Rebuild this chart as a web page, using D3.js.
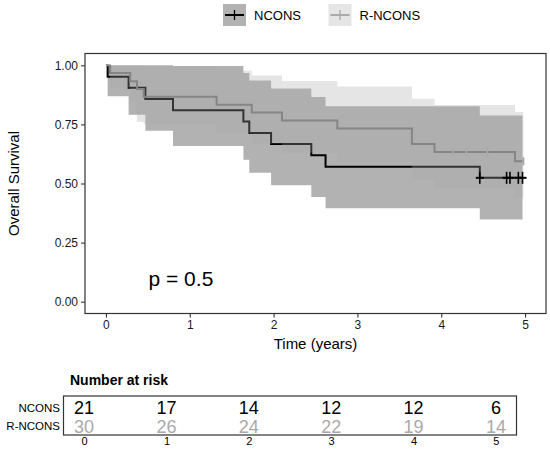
<!DOCTYPE html>
<html><head><meta charset="utf-8">
<script src="https://cdn.jsdelivr.net/npm/d3@7"></script>
<style>
html,body{margin:0;padding:0;background:#fff;}
svg{display:block;font-family:"Liberation Sans",Arial,sans-serif;}
</style></head>
<body>
<svg id="chart" width="550" height="453"></svg>
<script>
// ---- data ----
const groups = ["NCONS", "R-NCONS"];
const groupColors = ["#000000", "#a9a9a9"];
const bandColors = ["#000000", "#a9a9a9"];

const ncTime  = [0, 0.02, 0.27, 0.47, 0.80, 1.64, 1.71, 1.97, 2.45, 2.62, 4.46, 4.97];
const ncSurv  = [1, 0.952, 0.905, 0.857, 0.810, 0.762, 0.714, 0.667, 0.619, 0.571, 0.524, 0.524];
const ncUpper = [1, 1, 1, 1, 0.997, 0.967, 0.936, 0.902, 0.866, 0.827, 0.788, 0.788];
const ncLower = [1, 0.869, 0.791, 0.723, 0.659, 0.600, 0.545, 0.493, 0.443, 0.395, 0.348, 0.348];
const ncCensorTime = [4.46, 4.78, 4.82, 4.92, 4.97];
const ncCensorSurv = [0.524, 0.524, 0.524, 0.524, 0.524];

const rnTime  = [0, 0.05, 0.29, 0.37, 0.45, 1.32, 1.74, 2.10, 2.76, 3.65, 3.92, 4.88, 4.98];
const rnSurv  = [1, 0.967, 0.933, 0.900, 0.867, 0.833, 0.800, 0.767, 0.733, 0.667, 0.633, 0.594, 0.594];
const rnUpper = [1, 1, 1, 1, 0.997, 0.977, 0.957, 0.934, 0.910, 0.859, 0.832, 0.802, 0.802];
const rnLower = [1, 0.905, 0.848, 0.760, 0.753, 0.710, 0.669, 0.630, 0.591, 0.518, 0.482, 0.440, 0.440];
const rnCensorTime = [4.14, 4.30, 4.55, 4.98];
const rnCensorSurv = [0.633, 0.633, 0.633, 0.594];

const xTicks = [0, 1, 2, 3, 4, 5];
const yTicks = [0, 0.25, 0.5, 0.75, 1.0];
const yTickLabels = ["0.00", "0.25", "0.50", "0.75", "1.00"];
const riskTimes = [0, 1, 2, 3, 4, 5];
const riskNcons = [21, 17, 14, 12, 12, 6];
const riskRncons = [30, 26, 24, 22, 19, 14];
const pLabel = "p = 0.5";

// ---- build ----
const series = [
  {name: groups[0], color: groupColors[0], band: bandColors[0],
   pts: ncTime.map((t,i)=>({t, s: ncSurv[i], up: ncUpper[i], lo: ncLower[i]})),
   cens: ncCensorTime.map((t,i)=>({t, s: ncCensorSurv[i]}))},
  {name: groups[1], color: groupColors[1], band: bandColors[1],
   pts: rnTime.map((t,i)=>({t, s: rnSurv[i], up: rnUpper[i], lo: rnLower[i]})),
   cens: rnCensorTime.map((t,i)=>({t, s: rnCensorSurv[i]}))}
];

const svg = d3.select("#chart");
const P = {left: 85, right: 546, top: 53.5, bottom: 313.5};
const x = d3.scaleLinear().domain([-0.25, 5.25]).range([P.left, P.right]);
const y = d3.scaleLinear().domain([-0.05, 1.05]).range([P.bottom, P.top]);

const g = svg.append("g");

// lines first
const line = d3.line().x(d=>x(d.t)).y(d=>y(d.s)).curve(d3.curveStepAfter);
series.forEach(s=>{
  g.append("path").attr("d", line(s.pts)).attr("fill","none")
   .attr("stroke", s.color).attr("stroke-width", 2);
});
// confidence bands over lines
const area = d3.area().x(d=>x(d.t)).y0(d=>y(d.lo)).y1(d=>y(d.up)).curve(d3.curveStepAfter);
series.forEach(s=>{
  g.append("path").attr("d", area(s.pts)).attr("fill", s.band).attr("fill-opacity", 0.3).attr("stroke","none");
});
// censor marks
series.forEach((s,k)=>{
  s.cens.forEach(c=>{
    const cx = x(c.t), cy = y(c.s);
    if (k === 0) {
      g.append("line").attr("x1",cx).attr("x2",cx).attr("y1",cy-6).attr("y2",cy+6)
        .attr("stroke", s.color).attr("stroke-width",1.6);
      g.append("line").attr("x1",cx-4).attr("x2",cx+4).attr("y1",cy).attr("y2",cy)
        .attr("stroke", s.color).attr("stroke-width",2);
    } else {
      g.append("line").attr("x1",cx).attr("x2",cx).attr("y1",cy-4).attr("y2",cy+4)
        .attr("stroke", s.color).attr("stroke-width",2);
    }
  });
});

// panel border
svg.append("rect").attr("x",P.left).attr("y",P.top).attr("width",P.right-P.left).attr("height",P.bottom-P.top)
  .attr("fill","none").attr("stroke","#333").attr("stroke-width",1.2);

// axes
const yAxis = d3.axisLeft(y).tickValues(yTicks).tickFormat((d,i)=>yTickLabels[i]).tickSize(4).tickPadding(3);
const ya = svg.append("g").attr("transform",`translate(${P.left},0)`).call(yAxis);
const xAxis = d3.axisBottom(x).tickValues(xTicks).tickFormat(d3.format("d")).tickSize(4).tickPadding(3);
const xa = svg.append("g").attr("transform",`translate(0,${P.bottom})`).call(xAxis);
[ya, xa].forEach(a=>{
  a.select(".domain").remove();
  a.selectAll(".tick line").attr("stroke","#333").attr("stroke-width",1.1);
  a.selectAll(".tick text").attr("fill","#1a1a1a").style("font-size","12px")
   .style("font-family",'"Liberation Sans",Arial,sans-serif');
});

svg.append("text").attr("x",(P.left+P.right)/2).attr("y",348.5).attr("text-anchor","middle")
  .style("font-size","15px").attr("fill","#000").text("Time (years)");
svg.append("text").attr("transform",`translate(19,${(P.top+P.bottom)/2}) rotate(-90)`)
  .attr("text-anchor","middle").style("font-size","15px").attr("fill","#000").text("Overall Survival");

svg.append("text").attr("x",148.5).attr("y",286).style("font-size","21px").attr("fill","#000").text(pLabel);

// legend
const legend = [{name: groups[0], x: 223, color: groupColors[0], band: bandColors[0]},
                {name: groups[1], x: 328.5, color: groupColors[1], band: bandColors[1]}];
legend.forEach(l=>{
  const lg = svg.append("g");
  lg.append("line").attr("x1",l.x+2).attr("x2",l.x+21).attr("y1",15).attr("y2",15)
    .attr("stroke",l.color).attr("stroke-width",2);
  lg.append("line").attr("x1",l.x+11.5).attr("x2",l.x+11.5).attr("y1",10).attr("y2",20)
    .attr("stroke",l.color).attr("stroke-width",1.3);
  lg.append("rect").attr("x",l.x).attr("y",4).attr("width",23).attr("height",22)
    .attr("fill",l.band).attr("fill-opacity",0.3);
  lg.append("text").attr("x",l.x+31).attr("y",19.5).style("font-size","13px").attr("fill","#000").text(l.name);
});

// risk table
const T = {left: 63.5, right: 516.5, top: 396, bottom: 435};
const xr = d3.scaleLinear().domain([-0.25, 5.25]).range([T.left, T.right]);
svg.append("text").attr("x",70).attr("y",385).style("font-size","14px").style("font-weight","bold")
  .attr("fill","#000").text("Number at risk");
svg.append("rect").attr("x",T.left).attr("y",T.top).attr("width",T.right-T.left).attr("height",T.bottom-T.top)
  .attr("fill","none").attr("stroke","#333").attr("stroke-width",1.2);
const rows = [{name: groups[0], vals: riskNcons, color: "#000", yc: 407.5},
              {name: groups[1], vals: riskRncons, color: groupColors[1], yc: 426}];
rows.forEach(r=>{
  svg.append("text").attr("x",60).attr("y",r.yc+4).attr("text-anchor","end")
    .style("font-size","11.5px").attr("fill","#000").text(r.name);
  svg.selectAll(null).data(riskTimes).enter().append("text")
    .attr("x",(d)=>xr(d)).attr("y",r.yc+6.5).attr("text-anchor","middle")
    .style("font-size","18px").attr("fill",r.color).text((d,i)=>r.vals[i]);
});
const xra = svg.append("g").attr("transform",`translate(0,${T.bottom})`)
  .call(d3.axisBottom(xr).tickValues(riskTimes).tickFormat(d3.format("d")).tickSize(0).tickPadding(2.5));
xra.select(".domain").remove();
xra.selectAll(".tick text").attr("fill","#000").style("font-size","11px")
  .style("font-family",'"Liberation Sans",Arial,sans-serif');
</script>
</body></html>
